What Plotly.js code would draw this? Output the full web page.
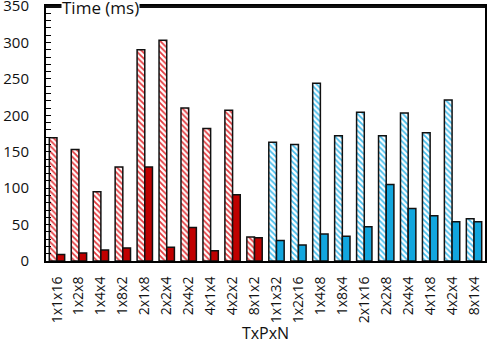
<!DOCTYPE html>
<html>
<head>
<meta charset="utf-8">
<script src="https://cdn.plot.ly/plotly-3.0.1.min.js"></script>
<style>html,body{margin:0;padding:0;background:#fff}#chart{width:490px;height:344px}</style>
</head>
<body>
<div id="chart"></div>
<script>
const categories = ["1x1x16","1x2x8","1x4x4","1x8x2","2x1x8","2x2x4","2x4x2","4x1x4","4x2x2","8x1x2",
                    "1x1x32","1x2x16","1x4x8","1x8x4","2x1x16","2x2x8","2x4x4","4x1x8","4x2x4","8x1x4"];
const hatchedValues = [169,153,95,129,290,303,210,182,207,33,
                       163,160,244,172,204,172,203,176,221,58];
const solidValues = [9,11,15,18,129,19,46,14,91,32,
                     28,22,37,34,47,105,72,62,54,54];
const groupOf = ["red","red","red","red","red","red","red","red","red","red",
                 "blue","blue","blue","blue","blue","blue","blue","blue","blue","blue"];

const solidColor = {red:"#C00000", blue:"#12A6DE"};
const stripeColor = {red:"#E33A3E", blue:"#45BDEC"};

const font = "Open Sans, Noto Sans, sans-serif";

const traces = [
  {
    type:"bar", x:categories, y:hatchedValues, name:"hatched",
    marker:{
      color:"#ffffff",
      line:{color:"#111", width:1.5},
      pattern:{shape:"\\", fgcolor:groupOf.map(g=>stripeColor[g]), bgcolor:"#ffffff", size:4, solidity:0.45}
    },
    hoverinfo:"skip"
  },
  {
    type:"bar", x:categories, y:solidValues, name:"solid",
    marker:{color:groupOf.map(g=>solidColor[g]), line:{color:"#111", width:1.5}},
    hoverinfo:"skip"
  }
];

const layout = {
  width:490, height:344,
  margin:{l:46, r:5, t:6, b:83},
  paper_bgcolor:"#fff", plot_bgcolor:"#fff",
  showlegend:false,
  barmode:"group", bargap:0.3, bargroupgap:0,
  font:{family:font, color:"#111", size:15},
  xaxis:{
    type:"category", tickangle:-90, showgrid:false, zeroline:false,
    showline:true, mirror:true, linecolor:"#000", linewidth:2, ticks:"",
    tickfont:{size:14, family:font, color:"#111"},
    ticklabelstandoff:8,
    title:{text:"TxPxN", font:{size:16, family:font, color:"#111"}, standoff:6}
  },
  yaxis:{
    range:[0,350], dtick:50, showgrid:false, zeroline:false,
    showline:true, mirror:true, linecolor:"#000", linewidth:2,
    ticks:"inside", ticklen:5, tickcolor:"#000",
    minor:{dtick:10, ticks:"inside", ticklen:5, tickcolor:"#000"},
    tickfont:{size:15, family:font, color:"#111"},
    ticklabelstandoff:12, ticklabeloverflow:"allow"
  },
  shapes:[
    {type:"line", xref:"paper", yref:"paper", x0:0, x1:1, y0:0.997, y1:0.997, layer:"above", line:{color:"#111", width:2.5}}
  ],
  annotations:[
    {text:"Time (ms)", xref:"paper", yref:"paper", x:0.034, y:1, xanchor:"left", yanchor:"middle", yshift:-1,
     showarrow:false, bgcolor:"#fff", borderpad:0, font:{size:17, family:font, color:"#111"}}
  ]
};

Plotly.newPlot("chart", traces, layout, {displayModeBar:false, staticPlot:true});
</script>
</body>
</html>
